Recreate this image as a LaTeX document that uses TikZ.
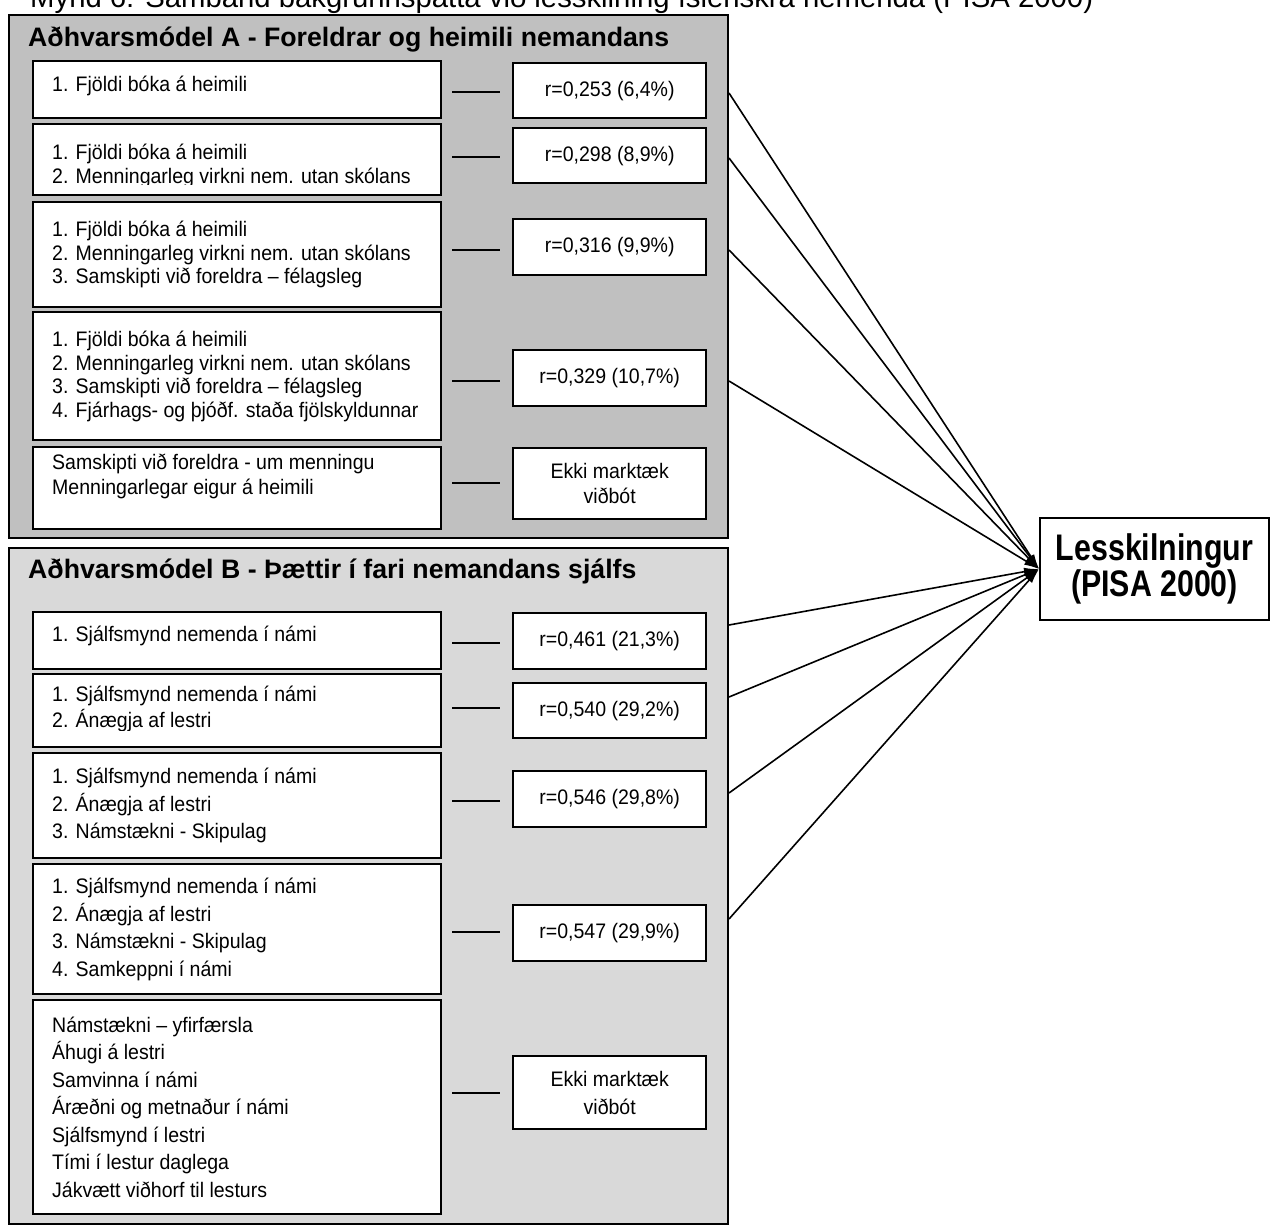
\documentclass[tikz,border=0pt]{standalone}
\usepackage{fontspec}
\setmainfont{Liberation Sans}
\newfontfamily\narrowsans[FakeStretch=0.82]{Liberation Sans}
\newfontfamily\boxsans[FakeStretch=0.93]{Liberation Sans}
\usetikzlibrary{arrows.meta,calc}
\definecolor{grayA}{RGB}{192,192,192}
\definecolor{grayB}{RGB}{217,217,217}
\newcommand\lfont{\boxsans\fontsize{21}{23.5}\selectfont}
\newcommand\lfontb{\boxsans\fontsize{21}{27.5}\selectfont}
\newcommand\hfont{\fontsize{26.7}{30}\selectfont\bfseries}
\begin{document}
\begin{tikzpicture}[x=1pt,y=-1pt,
  outerbox/.style={draw, line width=2pt},
  lbox/.style={draw, fill=white, line width=2.4pt, anchor=north west, inner sep=0pt, minimum width=408pt},
  rbox/.style={draw, fill=white, line width=2.4pt, anchor=north west, inner sep=0pt, minimum width=193pt, align=center, font=\boxsans\fontsize{21}{25}\selectfont},
  ltext/.style={anchor=west, align=left, inner sep=0pt, font=\lfont},
  ltextb/.style={anchor=west, align=left, inner sep=0pt, font=\lfontb},
  dashline/.style={line width=2pt},
  conn/.style={line width=1.6pt, -{Latex[length=15pt,width=8pt]}},
  heading/.style={anchor=base west, inner sep=0pt, font=\hfont}]
\useasboundingbox (0,0) rectangle (1271,1225);
\fill[white] (0,0) rectangle (1271,1225);
% top title (cut off)
\node[anchor=base west, inner sep=0pt, font=\fontsize{29.3}{32}\selectfont] (title) at (30,8) {Mynd 6: Samband bakgrunnsþátta við lesskilning íslenskra nemenda (PISA 2000)};
% outer boxes
\node[outerbox, fill=grayA, anchor=north west, minimum width=719pt, minimum height=523pt, inner sep=0pt] (A) at (8,14) {};
\node[outerbox, fill=grayB, anchor=north west, minimum width=719pt, minimum height=676pt, inner sep=0pt] (B) at (8,547) {};
\node[heading] (Ah) at (28,47) {Aðhvarsmódel A - Foreldrar og heimili nemandans};
\node[heading] (Bh) at (28,578) {Aðhvarsmódel B - Þættir í fari nemandans sjálfs};
% model A left boxes
\node[lbox, minimum height=57pt] (a1) at (32,60) {};
\node[lbox, minimum height=71pt] (a2) at (32,123) {};
\node[lbox, minimum height=105pt] (a3) at (32,201) {};
\node[lbox, minimum height=128pt] (a4) at (32,311) {};
\node[lbox, minimum height=82pt] (a5) at (32,446) {};
\node[ltext] (a1t) at (52,86) {1. Fjöldi bóka á heimili};
\begin{scope}
\clip (34,125) rectangle (438,185);
\node[ltext] (a2t) at (52,166) {1. Fjöldi bóka á heimili\\2. Menningarleg virkni nem. utan skólans};
\end{scope}
\node[ltext] (a3t) at ([xshift=20pt]a3.west) {1. Fjöldi bóka á heimili\\2. Menningarleg virkni nem. utan skólans\\3. Samskipti við foreldra – félagsleg};
\node[ltext] (a4t) at ([xshift=20pt]a4.west) {1. Fjöldi bóka á heimili\\2. Menningarleg virkni nem. utan skólans\\3. Samskipti við foreldra – félagsleg\\4. Fjárhags- og þjóðf. staða fjölskyldunnar};
\node[ltext, font=\boxsans\fontsize{21}{25}\selectfont] (a5t) at (52,476) {Samskipti við foreldra - um menningu\\Menningarlegar eigur á heimili};
% model A result boxes
\node[rbox, minimum height=55pt] (ra1) at (512,62) {r=0,253 (6,4\%)};
\node[rbox, minimum height=55pt] (ra2) at (512,127) {r=0,298 (8,9\%)};
\node[rbox, minimum height=56pt] (ra3) at (512,218) {r=0,316 (9,9\%)};
\node[rbox, minimum height=56pt] (ra4) at (512,349) {r=0,329 (10,7\%)};
\node[rbox, minimum height=71pt] (ra5) at (512,447) {Ekki marktæk\\viðbót};
% model B left boxes
\node[lbox, minimum height=57pt] (b1) at (32,611) {};
\node[lbox, minimum height=73pt] (b2) at (32,673) {};
\node[lbox, minimum height=105pt] (b3) at (32,752) {};
\node[lbox, minimum height=130pt] (b4) at (32,863) {};
\node[lbox, minimum height=214pt] (b5) at (32,999) {};
\node[ltext] (b1t) at (52,636) {1. Sjálfsmynd nemenda í námi};
\begin{scope}
\clip (34,675) rectangle (438,730);
\node[ltext, font=\boxsans\fontsize{21}{26}\selectfont] (b2t) at (52,709) {1. Sjálfsmynd nemenda í námi\\2. Ánægja af lestri};
\end{scope}
\node[ltextb] (b3t) at ([xshift=20pt]b3.west) {1. Sjálfsmynd nemenda í námi\\2. Ánægja af lestri\\3. Námstækni - Skipulag};
\node[ltextb] (b4t) at ([xshift=20pt]b4.west) {1. Sjálfsmynd nemenda í námi\\2. Ánægja af lestri\\3. Námstækni - Skipulag\\4. Samkeppni í námi};
\node[ltextb] (b5t) at ([xshift=20pt]b5.west) {Námstækni – yfirfærsla\\Áhugi á lestri\\Samvinna í námi\\Áræðni og metnaður í námi\\Sjálfsmynd í lestri\\Tími í lestur daglega\\Jákvætt viðhorf til lesturs};
% model B result boxes
\node[rbox, minimum height=56pt] (rb1) at (512,612) {r=0,461 (21,3\%)};
\node[rbox, minimum height=55pt] (rb2) at (512,682) {r=0,540 (29,2\%)};
\node[rbox, minimum height=56pt] (rb3) at (512,770) {r=0,546 (29,8\%)};
\node[rbox, minimum height=56pt] (rb4) at (512,904) {r=0,547 (29,9\%)};
\node[rbox, minimum height=73pt, font=\boxsans\fontsize{21}{28}\selectfont] (rb5) at (512,1055) {Ekki marktæk\\viðbót};
% target
\node[draw, line width=2pt, fill=white, anchor=north west, minimum width=229pt, minimum height=102pt, inner sep=0pt, align=center, font=\fontsize{37}{36}\narrowsans\bfseries] (les) at (1039,517) {Lesskilningur\\(PISA 2000)};
% dashes
\foreach \n/\y in {a1/92,a2/157,a3/250,a4/381,a5/483,b1/643,b2/708,b3/801,b4/932,b5/1093}{
  \coordinate (d\n l) at (452,\y);
  \coordinate (d\n r) at (500,\y);
  \draw[dashline] (d\n l) -- (d\n r);
}
% connector starts on right edge of the outer boxes
\coordinate (sa1) at (A.east |- 0,93);
\coordinate (sa2) at (A.east |- 0,158);
\coordinate (sa3) at (A.east |- 0,250);
\coordinate (sa4) at (A.east |- 0,381);
\coordinate (sb1) at (B.east |- 0,625);
\coordinate (sb2) at (B.east |- 0,697);
\coordinate (sb3) at (B.east |- 0,793);
\coordinate (sb4) at (B.east |- 0,919);
\foreach \s in {sa1,sa2,sa3,sa4,sb1,sb2,sb3,sb4}{
  \draw[conn] (\s) -- (les.west);
}
\end{tikzpicture}
\end{document}
